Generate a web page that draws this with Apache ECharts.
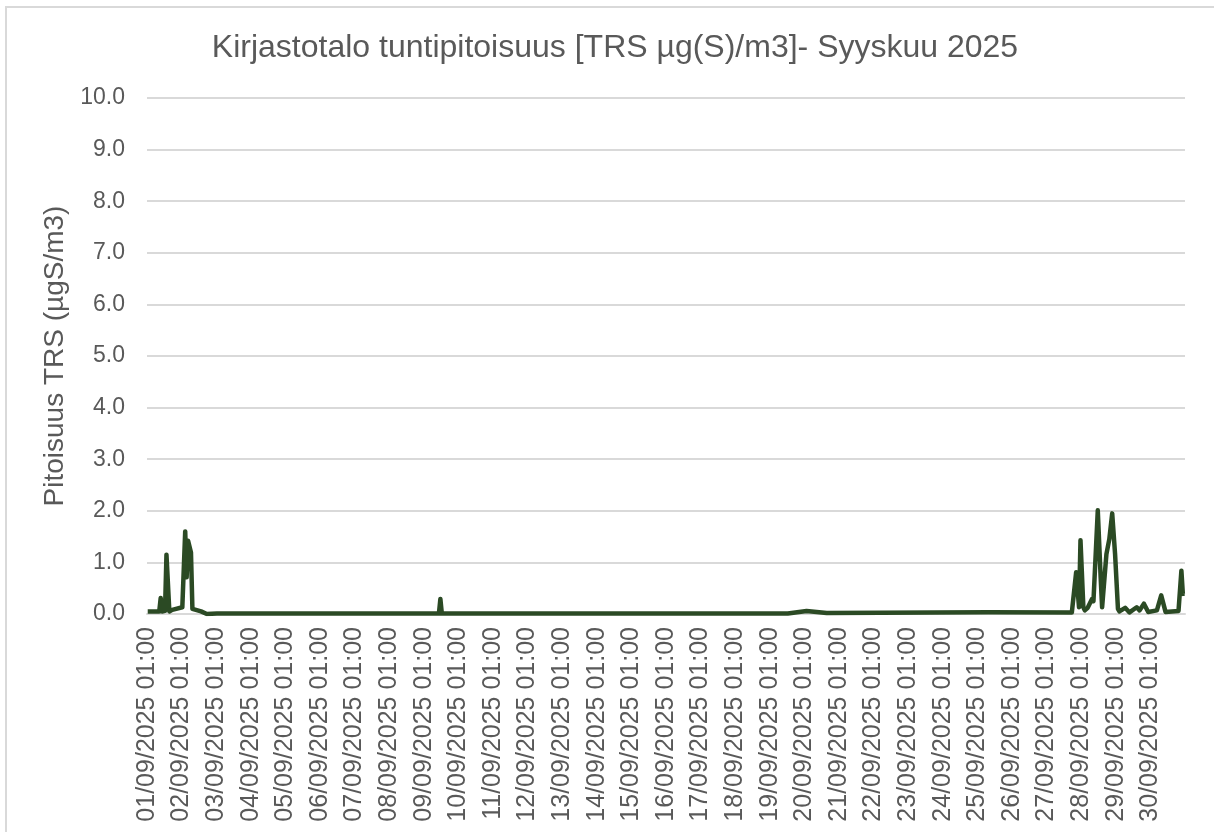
<!DOCTYPE html>
<html>
<head>
<meta charset="utf-8">
<script src="https://cdn.jsdelivr.net/npm/echarts@6/dist/echarts.min.js"></script>
<style>
  html, body { margin: 0; padding: 0; background: #fff; }
  #frame { position: absolute; left: 5px; top: 6px; width: 1300px; height: 900px; border: 2px solid #d9d9d9; box-sizing: border-box; }
  #myChart { position: absolute; left: 0; top: 0; width: 1214px; height: 832px; }
</style>
</head>
<body>
<div id="frame"></div>
<div id="myChart"></div>
<script>
// tick labels of the x axis (one per day, first hour of the day)
var dayLabels = [
  '01/09/2025 01:00', '02/09/2025 01:00', '03/09/2025 01:00', '04/09/2025 01:00', '05/09/2025 01:00',
  '06/09/2025 01:00', '07/09/2025 01:00', '08/09/2025 01:00', '09/09/2025 01:00', '10/09/2025 01:00',
  '11/09/2025 01:00', '12/09/2025 01:00', '13/09/2025 01:00', '14/09/2025 01:00', '15/09/2025 01:00',
  '16/09/2025 01:00', '17/09/2025 01:00', '18/09/2025 01:00', '19/09/2025 01:00', '20/09/2025 01:00',
  '21/09/2025 01:00', '22/09/2025 01:00', '23/09/2025 01:00', '24/09/2025 01:00', '25/09/2025 01:00',
  '26/09/2025 01:00', '27/09/2025 01:00', '28/09/2025 01:00', '29/09/2025 01:00', '30/09/2025 01:00'
];
var hoursPerDay = 24;
var hoursTotal = 720;

// hour index (0 = 01/09/2025 01:00) of each vertex
var hours = [
  0, 8, 9, 10, 12, 13, 15, 17, 24, 26, 27, 28, 30, 31, 37, 41, 48,
  202, 203, 204,
  444, 457, 471, 583, 641,
  644, 646, 647, 649, 650, 652, 655, 656, 659, 661, 662, 665, 667, 669, 671, 673,
  674, 678, 681, 686, 688, 691, 694, 700, 703, 706, 715, 717, 718, 719
];
// TRS concentration (µgS/m3) at those hours
var values = [
  0.05, 0.05, 0.31, 0.05, 0.06, 1.15, 0.05, 0.08, 0.13, 1.60, 0.71, 1.42, 1.19, 0.10, 0.05, 0.0, 0.01,
  0.01, 0.29, 0.01,
  0.01, 0.06, 0.02, 0.035, 0.03,
  0.81, 0.13, 1.43, 0.13, 0.07, 0.12, 0.29, 0.25, 2.01, 0.71, 0.13, 1.16, 1.45, 1.95, 1.16, 0.10,
  0.05, 0.12, 0.03, 0.13, 0.07, 0.20, 0.04, 0.07, 0.36, 0.04, 0.06, 0.84, 0.39, 0.40
];

var yMin = 0, yMax = 10, yStep = 1;
var fontFamily = '"Liberation Sans", Arial, sans-serif';
var textColor = '#595959';

var myChart = echarts.init(document.getElementById('myChart'));
var seriesData = [];
for (var i = 0; i < hours.length; i++) {
  // each hour sits in the middle of its slot, like a category axis
  seriesData.push([hours[i] + 0.5, values[i]]);
}

myChart.setOption({
  animation: false,
  title: {
    text: 'Kirjastotalo tuntipitoisuus [TRS µg(S)/m3]- Syyskuu 2025',
    left: 610,
    top: 27,
    textAlign: 'center',
    textStyle: { fontFamily: fontFamily, fontSize: 32, fontWeight: 'normal', color: textColor }
  },
  grid: { left: 147, right: 29, top: 98, bottom: 218 },
  xAxis: {
    type: 'value',
    min: 0,
    max: hoursTotal,
    interval: hoursPerDay,
    axisLine: { show: true, lineStyle: { color: '#d9d9d9', width: 2 } },
    axisTick: { show: false },
    splitLine: { show: false },
    axisLabel: {
      rotate: 90,
      margin: 13,
      showMaxLabel: false,
      fontFamily: fontFamily,
      fontSize: 25,
      color: textColor,
      formatter: function (v) {
        var d = Math.round(v / hoursPerDay);
        return d < dayLabels.length ? dayLabels[d] : '';
      }
    }
  },
  yAxis: {
    type: 'value',
    min: yMin,
    max: yMax,
    interval: yStep,
    name: 'Pitoisuus TRS (µgS/m3)',
    nameLocation: 'middle',
    nameRotate: 90,
    nameGap: 76,
    nameTextStyle: { fontFamily: fontFamily, fontSize: 28, color: textColor },
    axisLine: { show: false },
    axisTick: { show: false },
    splitLine: { lineStyle: { color: '#d9d9d9', width: 2 } },
    axisLabel: {
      margin: 22,
      fontFamily: fontFamily,
      fontSize: 23,
      color: textColor,
      formatter: function (v) { return v.toFixed(1); }
    }
  },
  series: [{
    name: 'TRS',
    type: 'line',
    data: seriesData,
    showSymbol: false,
    lineStyle: { color: '#2b4a24', width: 4.5, join: 'round' }
  }]
});
</script>
</body>
</html>
